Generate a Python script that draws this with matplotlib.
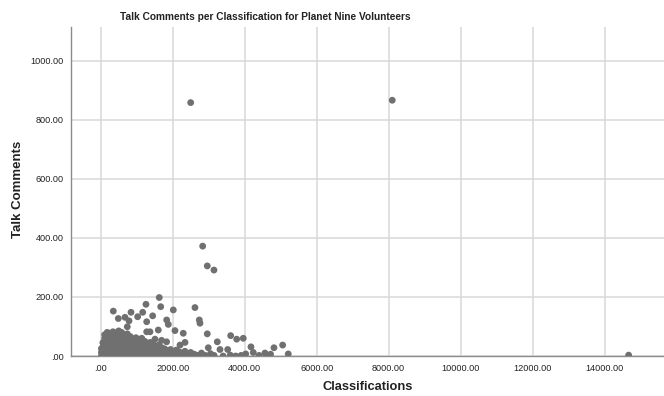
import matplotlib
matplotlib.use("Agg")
import matplotlib.pyplot as plt

plt.rcParams['font.family'] = ['Liberation Sans', 'DejaVu Sans']

# Outlying / scattered volunteers (classifications, talk comments)
outlier_x = [2500, 8100, 2833, 2961, 3147, 14667,
             1627, 1258, 1667, 350, 842, 1167, 2017, 2619, 1027, 1444,
             489, 675, 786, 1278, 1833, 1878, 2739, 2758, 739, 1600, 2064,
             2294, 2961, 3611, 3778, 3961, 3239, 2342, 2203, 2989, 3314, 3528,
             4175, 4239, 4028, 4564, 4719, 4814, 5055, 5211,
             1278, 1369, 1508, 1692, 1831]
outlier_y = [858, 866, 372, 305, 291, 3,
             198, 175, 167, 152, 148, 148, 156, 164, 133, 136,
             127, 131, 119, 116, 122, 107, 122, 111, 99, 88, 86,
             77, 75, 69, 57, 60, 48, 46, 37, 28, 22, 22,
             31, 12, 7, 10, 6, 28, 37, 7,
             82, 82, 57, 53, 48]

# Dense cluster of typical volunteers
cluster_x = [20, 20, 20,
             60, 60, 60, 60,
             110, 110, 110, 110, 110, 110,
             180, 180, 180, 180, 180, 180,
             260, 260, 260, 260, 260,
             340, 340, 340, 340, 340, 340,
             420, 420, 420, 420, 420,
             500, 500, 500, 500, 500, 500,
             580, 580, 580, 580, 580,
             660, 660, 660, 660, 660,
             740, 740, 740, 740, 740,
             820, 820, 820, 820, 820,
             900, 900, 900, 900,
             980, 980, 980, 980, 980,
             1060, 1060, 1060, 1060,
             1140, 1140, 1140, 1140, 1140,
             1220, 1220, 1220, 1220,
             1300, 1300, 1300, 1300,
             1380, 1380, 1380, 1380,
             1460, 1460, 1460, 1460,
             1540, 1540, 1540,
             1620, 1620, 1620, 1620,
             1700, 1700, 1700,
             1780, 1780, 1780,
             1860, 1860,
             1940, 1940, 1940,
             2020, 2020,
             2100, 2100, 2100,
             2180, 2180,
             2260, 2260,
             2340, 2340,
             2420, 2420,
             2500, 2500,
             2600, 2600,
             2700,
             2800, 2800,
             2900,
             3050, 3050,
             3150,
             3400, 3600, 3750, 3900, 4400, 4650]
cluster_y = [0, 12, 25,
             0, 15, 30, 45,
             0, 15, 30, 45, 60, 72,
             0, 18, 36, 54, 70, 80,
             5, 22, 40, 58, 76,
             0, 18, 36, 54, 72, 82,
             8, 26, 44, 62, 78,
             0, 18, 36, 54, 70, 85,
             8, 26, 44, 62, 80,
             0, 18, 36, 54, 72,
             8, 26, 44, 60, 75,
             0, 18, 36, 52, 66,
             8, 26, 42, 58,
             0, 18, 34, 50, 62,
             8, 24, 40, 55,
             0, 16, 32, 48, 60,
             6, 22, 38, 50,
             0, 15, 30, 44,
             6, 20, 34, 46,
             0, 14, 28, 40,
             5, 18, 32,
             0, 12, 26, 38,
             4, 16, 28,
             0, 12, 24,
             5, 18,
             0, 12, 22,
             4, 15,
             0, 10, 20,
             4, 14,
             0, 10,
             3, 16,
             0, 8,
             2, 12,
             0, 6,
             2,
             0, 10,
             2,
             0, 8,
             2,
             0, 3, 0, 2, 2, 0]

x_ticks = [0, 2000, 4000, 6000, 8000, 10000, 12000, 14000]
x_tick_labels = ['.00', '2000.00', '4000.00', '6000.00', '8000.00',
                 '10000.00', '12000.00', '14000.00']
y_ticks = [0, 200, 400, 600, 800, 1000]
y_tick_labels = ['.00', '200.00', '400.00', '600.00', '800.00', '1000.00']

W, H = 664, 396
fig = plt.figure(figsize=(W / 100, H / 100), dpi=100)
ax = fig.add_axes([71 / W, 1 - 356 / H, (664 - 71) / W, (356 - 27) / H])

point_color = '#707070'
ax.scatter(cluster_x, cluster_y, s=24, color=point_color, edgecolors='none', zorder=3)
ax.scatter(outlier_x, outlier_y, s=24, color=point_color, edgecolors='none', zorder=3)

ax.set_xlim(-825, 15650)
ax.set_ylim(0, 1114)
ax.set_xticks(x_ticks)
ax.set_xticklabels(x_tick_labels)
ax.set_yticks(y_ticks)
ax.set_yticklabels(y_tick_labels)
ax.tick_params(axis='both', length=0, labelsize=6.6, colors='#222222', pad=5)
ax.tick_params(axis='x', pad=6)

ax.grid(True, color='#d9d9d9', linewidth=1.1, zorder=0)
ax.set_axisbelow(True)
for side in ['top', 'right']:
    ax.spines[side].set_visible(False)
for side in ['left', 'bottom']:
    ax.spines[side].set_color('#8c8c8c')
    ax.spines[side].set_linewidth(1.0)

fig.text(265 / W, 1 - 17 / H,
         'Talk Comments per Classification for Planet Nine Volunteers',
         ha='center', va='center', fontsize=7.3, fontweight='bold', color='#222222')
fig.text(18 / W, 1 - 189 / H, 'Talk Comments', rotation=90,
         ha='center', va='center', fontsize=9.5, fontweight='bold', color='#222222')
fig.text(368 / W, 1 - 387 / H, 'Classifications',
         ha='center', va='center', fontsize=9.3, fontweight='bold', color='#222222')

fig.savefig('out.png', dpi=100)
